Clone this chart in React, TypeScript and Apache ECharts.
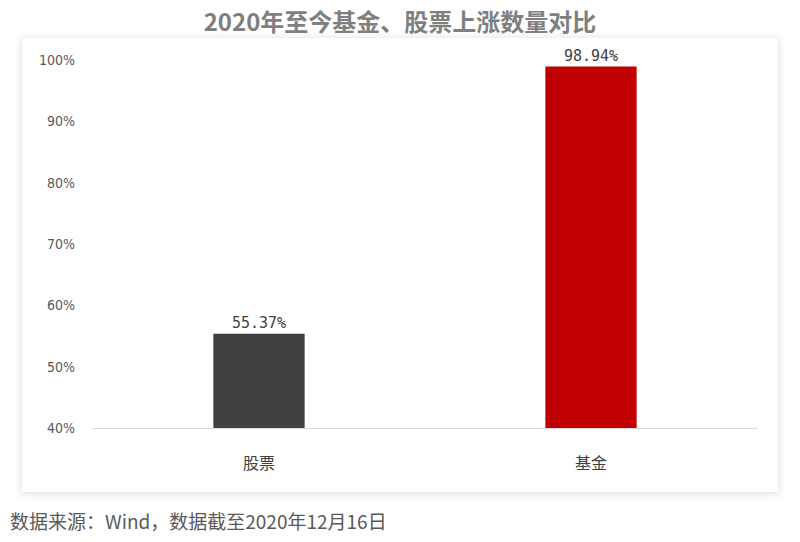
import { useEffect, useRef } from 'react';
import * as echarts from 'echarts';

const categories = ['股票', '基金'];
const riseShare = [55.37, 98.94];
const barColors = ['#404040', '#C00000'];
const yTicks = { min: 40, max: 100, interval: 10 };

export default function App() {
  const chartRef = useRef<HTMLDivElement>(null);

  useEffect(() => {
    if (!chartRef.current) return;
    const chart = echarts.init(chartRef.current, undefined, { renderer: 'svg' });

    const option: echarts.EChartsOption = {
      animation: false,
      backgroundColor: '#ffffff',
      title: {
        text: '2020年至今基金、股票上涨数量对比',
        left: 'center',
        top: 3,
        textStyle: {
          fontFamily: 'Noto Sans CJK SC',
          fontWeight: 'bold',
          fontSize: 24,
          color: '#7f7f7f',
        },
      },
      graphic: [
        {
          type: 'rect',
          z: -10,
          shape: { x: 22, y: 38, width: 756, height: 454 },
          style: {
            fill: '#ffffff',
            shadowBlur: 8,
            shadowColor: 'rgba(0,0,0,0.15)',
            shadowOffsetX: 0,
            shadowOffsetY: 1,
          },
        },
        {
          type: 'text',
          left: 10,
          top: 511,
          style: {
            text: '数据来源：Wind，数据截至2020年12月16日',
            fontFamily: 'Noto Sans CJK SC',
            fontSize: 19,
            fill: '#595959',
          },
        },
      ],
      grid: {
        left: 93,
        right: 43,
        top: 60,
        bottom: 114,
      },
      xAxis: {
        type: 'category',
        data: categories,
        axisLine: { lineStyle: { color: '#d9d9d9', width: 1 } },
        axisTick: { show: false },
        axisLabel: {
          color: '#404040',
          fontSize: 16,
          margin: 26,
          fontFamily: 'Noto Sans CJK SC',
        },
      },
      yAxis: {
        type: 'value',
        min: yTicks.min,
        max: yTicks.max,
        interval: yTicks.interval,
        axisLine: { show: false },
        axisTick: { show: false },
        splitLine: { show: false },
        axisLabel: {
          formatter: '{value}%',
          color: '#595959',
          fontSize: 14,
          margin: 18,
          fontFamily: 'DejaVu Sans Condensed',
        },
      },
      series: [
        {
          type: 'bar',
          barWidth: '27.5%',
          data: riseShare.map((v, i) => ({
            value: v,
            itemStyle: { color: barColors[i] },
          })),
          label: {
            show: true,
            position: 'top',
            distance: 3,
            formatter: (p: any) => `${Number(p.value).toFixed(2)}%`,
            color: '#404040',
            fontSize: 15,
            fontFamily: 'DejaVu Sans Mono',
          },
        },
      ],
    };

    chart.setOption(option);
    return () => {
      chart.dispose();
    };
  }, []);

  return (
    <div
      ref={chartRef}
      style={{ position: 'fixed', left: 0, top: 0, width: 800, height: 542 }}
    />
  );
}
